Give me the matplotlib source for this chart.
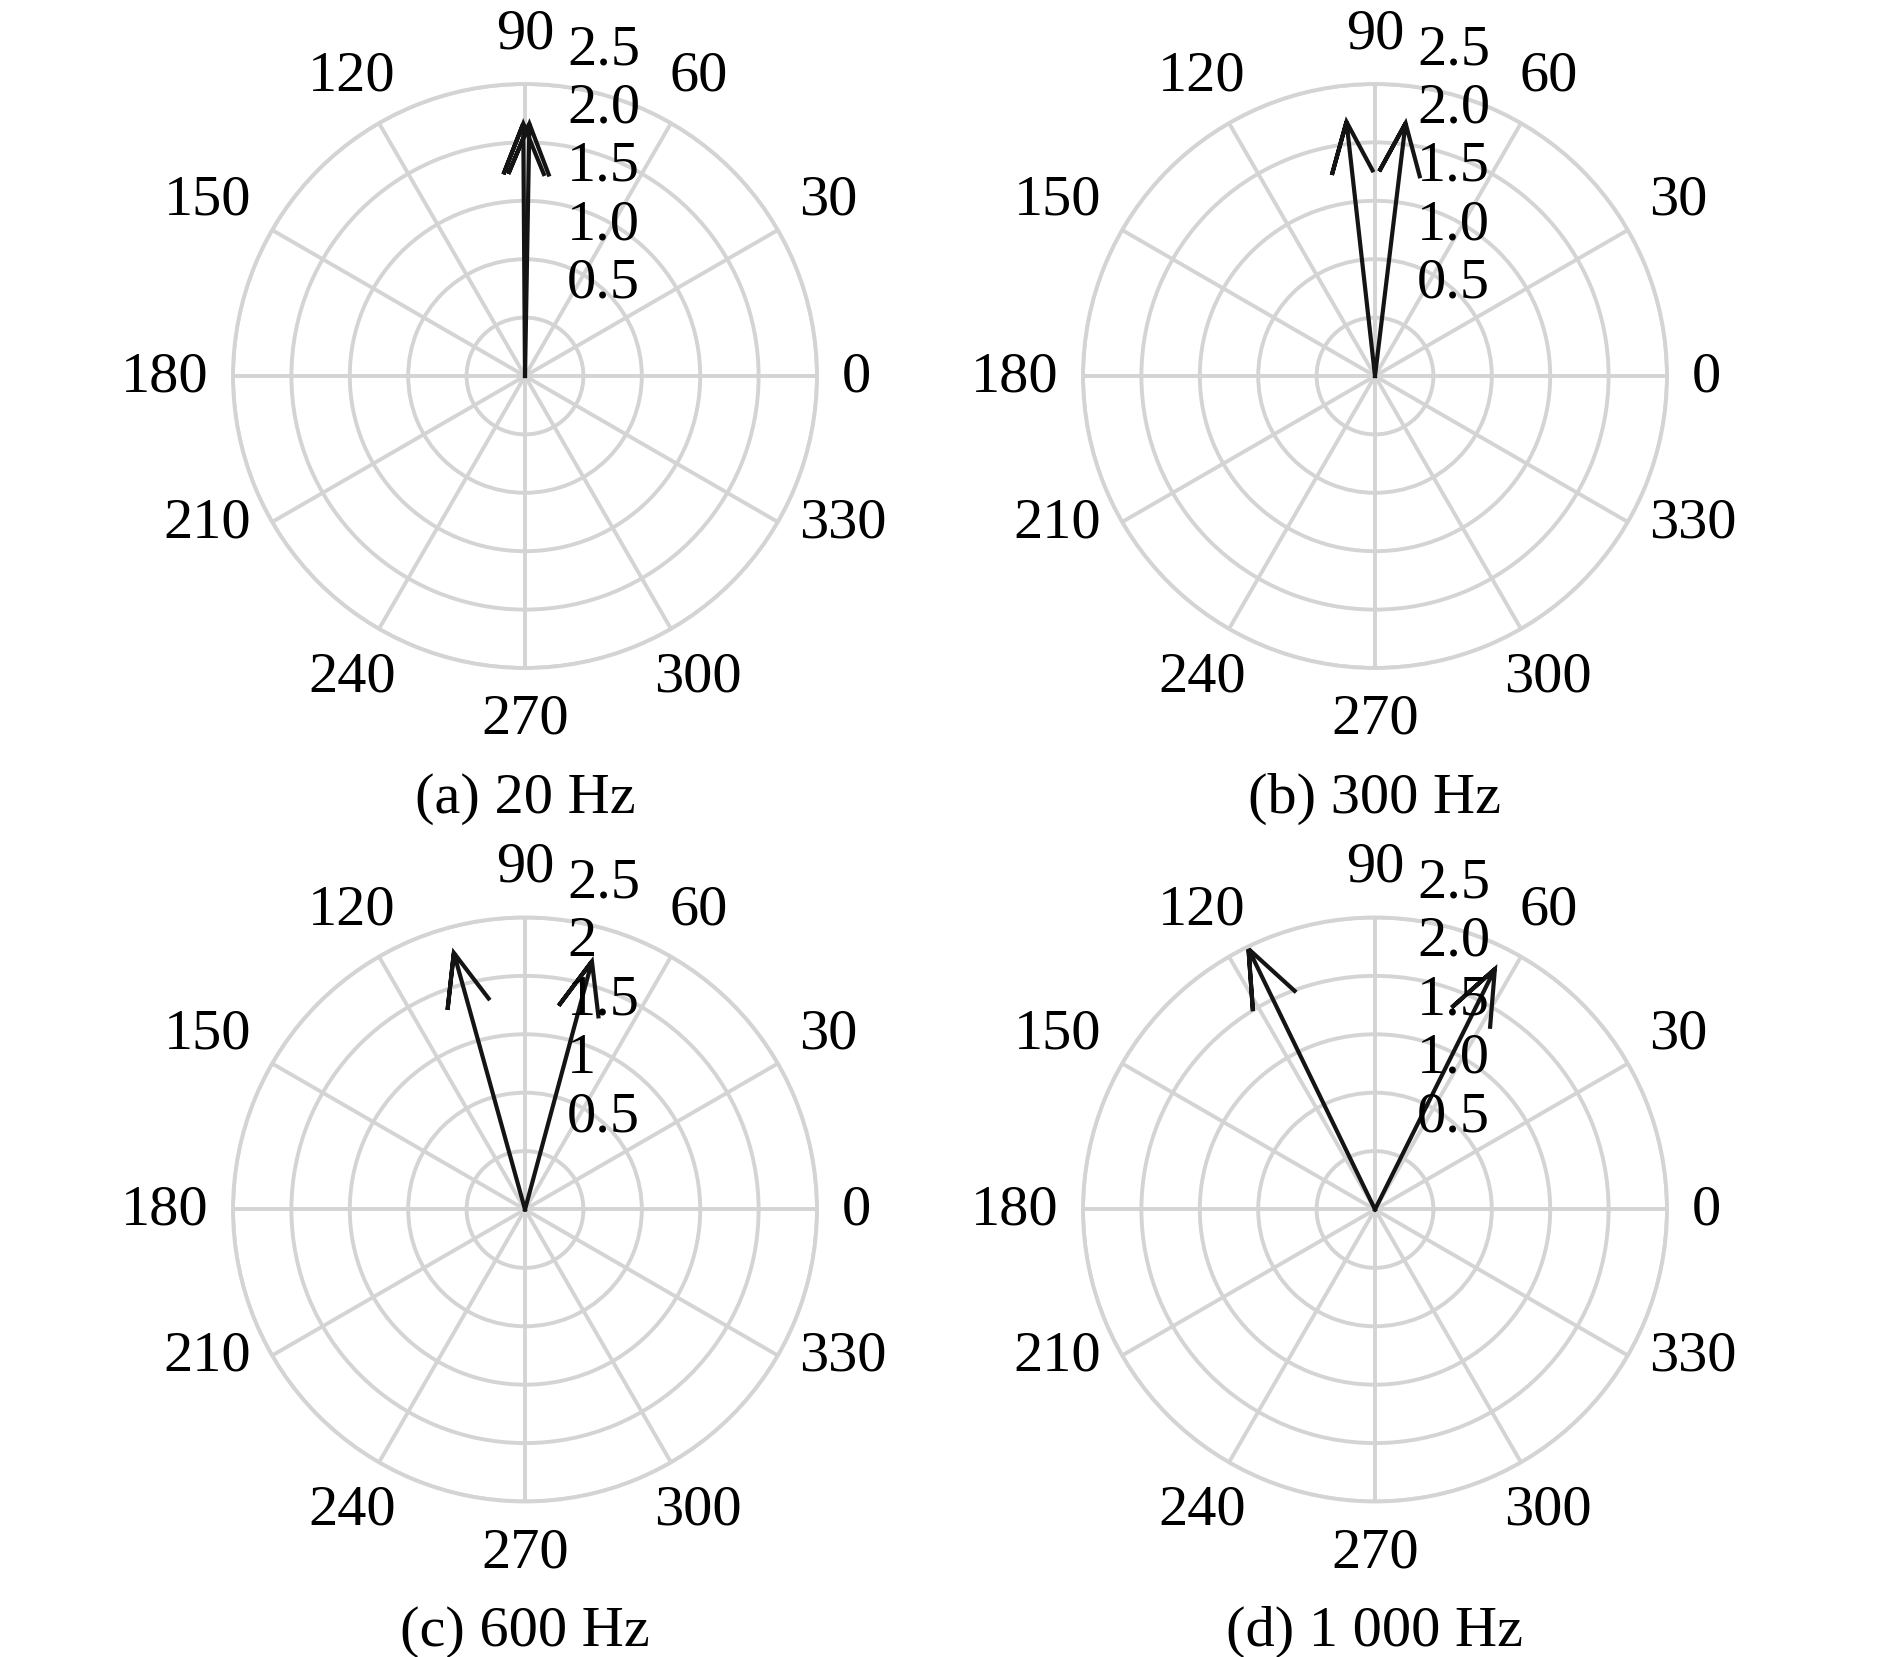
"""
Compass plots of the vibration vectors at four frequencies
"""
import numpy as np
import matplotlib.pyplot as plt

plt.rcParams['font.family'] = ['Liberation Serif', 'DejaVu Serif']

titles = ['(a) 20 Hz', '(b) 300 Hz', '(c) 600 Hz', '(d) 1 000 Hz']

# arrow directions (degrees) and lengths, two arrows per panel
angles = [[90.4, 89.0], [96.4, 83.1], [105.5, 74.9], [115.9, 63.5]]
mags = [[2.16, 2.16], [2.19, 2.18], [2.28, 2.20], [2.48, 2.30]]

r_ticks = [0.5, 1.0, 1.5, 2.0, 2.5]
r_labels = [
    ['0.5', '1.0', '1.5', '2.0', '2.5'],
    ['0.5', '1.0', '1.5', '2.0', '2.5'],
    ['0.5', '1', '1.5', '2', '2.5'],
    ['0.5', '1.0', '1.5', '2.0', '2.5'],
]
theta_ticks = list(range(0, 360, 30))

# compass arrow shape (tip at 1, barbs at 0.8 +/- 0.08)
arrow_x = np.array([0, 1, 0.8, 1, 0.8])
arrow_y = np.array([0, 0, 0.08, 0, -0.08])

grid_color = '#d4d4d4'
line_color = '#141414'
fs = 42

fig = plt.figure(figsize=(18.9, 16.58), dpi=100)

w = 584 / 1890
h = 584 / 1658
positions = [
    (233 / 1890, 0.5965, w, h),
    (1083 / 1890, 0.5965, w, h),
    (233 / 1890, 0.0938, w, h),
    (1083 / 1890, 0.0938, w, h),
]

for i in range(4):
    ax = fig.add_axes(positions[i], projection='polar')
    ax.set_rlim(0, 2.5)
    ax.set_yticks(r_ticks)
    ax.set_yticklabels([])
    ax.set_xticks(np.deg2rad(theta_ticks))
    ax.set_xticklabels([])
    ax.tick_params(length=0)
    ax.grid(True, color=grid_color, linewidth=2.8)
    ax.spines['polar'].set_color(grid_color)
    ax.spines['polar'].set_linewidth(2.8)
    ax.set_axisbelow(True)

    # arrows
    for ang, mag in zip(angles[i], mags[i]):
        z = mag * np.exp(1j * np.deg2rad(ang))
        pts = (arrow_x + 1j * arrow_y) * z
        th = np.angle(pts)
        th[0] = np.deg2rad(ang)
        ax.plot(th, np.abs(pts), color=line_color, linewidth=3.0,
                solid_joinstyle='miter', zorder=2)

    # angle labels outside the circle
    for t in theta_ticks:
        c = np.cos(np.deg2rad(t))
        s = np.sin(np.deg2rad(t))
        dx, dy = 0, 0
        if c > 0.6:
            ha = 'left'
        elif c < -0.6:
            ha = 'right'
        else:
            ha = 'center'
            if abs(c) > 0.1:
                dx = 15 * np.sign(c)
        if s > 0.6:
            va = 'bottom'
        elif s > 0.3:
            va = 'bottom'
            dy = -8
        elif s < -0.6:
            va = 'top'
        else:
            va = 'center'
            if s < -0.3:
                dy = 12
        ax.annotate(str(t), xy=(np.deg2rad(t), 2.71), xytext=(dx, dy),
                    textcoords='offset pixels', fontsize=fs,
                    ha=ha, va=va, annotation_clip=False)

    # radius labels, stacked right of the 90 degree spoke
    for r, lab in zip(r_ticks, r_labels[i]):
        ax.annotate(lab, xy=(np.pi / 2, r), xytext=(42, 35),
                    textcoords='offset pixels', fontsize=fs,
                    ha='left', va='center', zorder=3,
                    annotation_clip=False)

    ax.text(0.5, -0.222, titles[i], transform=ax.transAxes,
            fontsize=fs, ha='center', va='center')

fig.savefig('out.png', dpi=100)
